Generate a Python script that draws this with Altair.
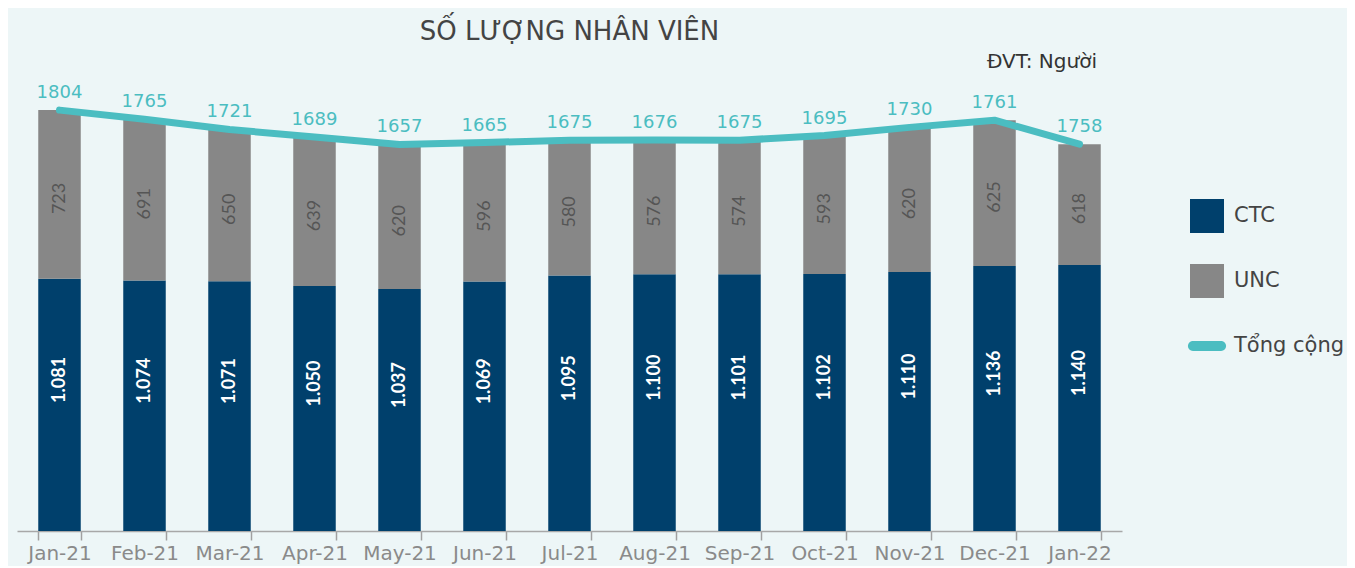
import altair as alt
import pandas as pd

# ---- data ----
months = ["Jan-21", "Feb-21", "Mar-21", "Apr-21", "May-21", "Jun-21", "Jul-21",
          "Aug-21", "Sep-21", "Oct-21", "Nov-21", "Dec-21", "Jan-22"]
ctc = [1081, 1074, 1071, 1050, 1037, 1069, 1095, 1100, 1101, 1102, 1110, 1136, 1140]
# drawn height of the UNC segments (Jan-22 segment is drawn shorter than its label says)
unc = [723, 691, 650, 639, 620, 596, 580, 576, 574, 593, 620, 625, 518]
unc_labels = ["723", "691", "650", "639", "620", "596", "580", "576", "574", "593", "620", "625", "618"]
total_labels = ["1804", "1765", "1721", "1689", "1657", "1665", "1675", "1676", "1675",
                "1695", "1730", "1761", "1758"]

series_names = ["CTC", "UNC", "Tổng cộng"]
series_colors = ["#00406c", "#878787", "#4bbdc1"]
TEAL = "#4bbdc1"
FONT = "Lato"
WIDE = "DejaVu Sans"

rows = []
for i, m in enumerate(months):
    rows.append({"month": m, "series": "CTC", "value": ctc[i], "ord": 0,
                 "label": f"{ctc[i]:,}".replace(",", "."), "mid": ctc[i] / 2})
    rows.append({"month": m, "series": "UNC", "value": unc[i], "ord": 1,
                 "label": unc_labels[i], "mid": ctc[i] + unc[i] / 2})
bars_df = pd.DataFrame(rows)
total_df = pd.DataFrame({"month": months,
                         "total": [c + u for c, u in zip(ctc, unc)],
                         "label": total_labels})
legend_df = pd.DataFrame({"series": series_names})
note_df = pd.DataFrame({"t": ["ĐVT: Người"]})

capsule = ("M-0.83,-0.29 L0.83,-0.29 A0.29,0.29 0 0 1 0.83,0.29 "
           "L-0.83,0.29 A0.29,0.29 0 0 1 -0.83,-0.29 Z")

x_enc = alt.X("month:N", sort=months,
              scale=alt.Scale(paddingInner=0.5, paddingOuter=0.25),
              axis=alt.Axis(title=None, labelAngle=0, labelFont=WIDE, labelFontSize=20,
                            labelColor="#8a8a8a", labelPadding=3, tickSize=9,
                            tickColor="#a0a0a0", tickWidth=1.5, tickBand="extent",
                            domainColor="#a8a8a8", domainWidth=1.5, grid=False))
y_scale = alt.Scale(domain=[0, 2096], nice=False, zero=True)

legend = alt.Legend(title=None, orient="none", legendX=1173, legendY=157,
                    symbolSize=1156, symbolStrokeWidth=0, labelFont=WIDE,
                    labelFontSize=21, labelColor="#444444", labelOffset=10,
                    rowPadding=31, padding=0, labelLimit=200)
color_scale = alt.Scale(domain=series_names, range=series_colors)

bars = alt.Chart(bars_df).mark_bar().encode(
    x=x_enc,
    y=alt.Y("value:Q", stack="zero", scale=y_scale, axis=None),
    color=alt.Color("series:N", scale=color_scale, legend=legend),
    order=alt.Order("ord:Q"),
)

ctc_text = alt.Chart(bars_df).transform_filter(alt.datum.series == "CTC").mark_text(
    angle=270, color="white", fontWeight="bold", fontSize=18, font=FONT, dx=25,
    align="center", baseline="middle",
).encode(x=x_enc, y=alt.Y("mid:Q", scale=y_scale, axis=None), text="label:N")

unc_text = alt.Chart(bars_df).transform_filter(alt.datum.series == "UNC").mark_text(
    angle=270, color="#555555", fontSize=18, font=FONT, dx=-4,
    align="center", baseline="middle",
).encode(x=x_enc, y=alt.Y("mid:Q", scale=y_scale, axis=None), text="label:N")

line = alt.Chart(total_df).mark_line(color=TEAL, strokeWidth=7, strokeCap="round",
                                     strokeJoin="round").encode(
    x=x_enc, y=alt.Y("total:Q", scale=y_scale, axis=None))

line_text = alt.Chart(total_df).mark_text(color=TEAL, fontSize=18, font=WIDE, dy=-17,
                                          baseline="middle").encode(
    x=x_enc, y=alt.Y("total:Q", scale=y_scale, axis=None), text="label:N")

legend_layer = alt.Chart(legend_df).transform_filter("false").mark_point(
    filled=True, opacity=1).encode(
    color=alt.Color("series:N", scale=color_scale, legend=legend),
    shape=alt.Shape("series:N",
                    scale=alt.Scale(domain=series_names, range=["square", "square", capsule]),
                    legend=legend),
)

note = alt.Chart(note_df).mark_text(align="right", baseline="middle", fontSize=20,
                                    font=WIDE, color="#333333").encode(
    text="t:N", x=alt.value(1080), y=alt.value(20))

chart = alt.layer(bars, ctc_text, unc_text, line, line_text, legend_layer, note).properties(
    width=1105, height=489,
    title=alt.TitleParams("SỐ LƯỢNG NHÂN VIÊN", fontSize=26, font=WIDE,
                          fontWeight="normal", color="#444444", anchor="middle",
                          frame="group", offset=-3),
    autosize=alt.AutoSizeParams(type="none"),
    padding={"left": 9, "top": 34, "right": 225, "bottom": 35},
    background="#edf6f7",
).configure_view(stroke=None)

chart.save("out.html", embed_options={"renderer": "svg", "actions": False})
